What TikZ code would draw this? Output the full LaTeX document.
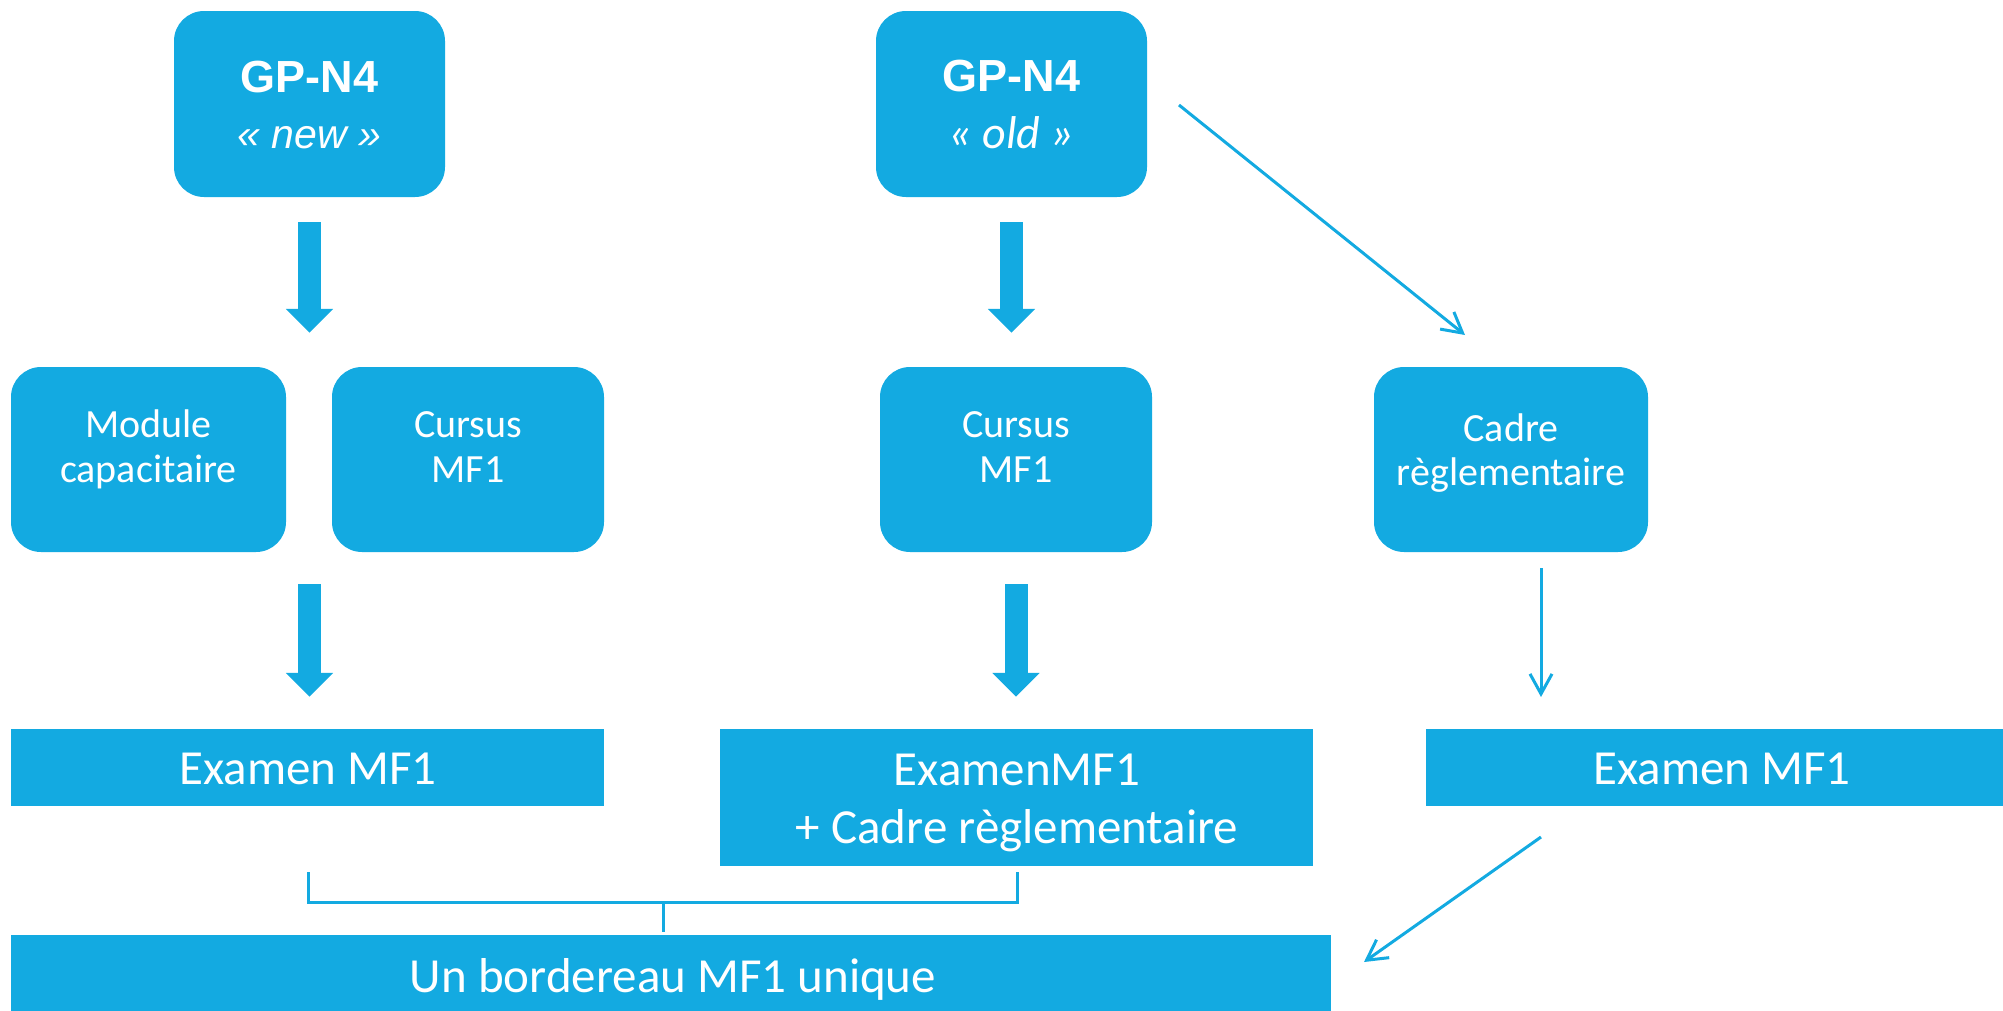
\documentclass[tikz,border=0pt]{standalone}
\usepackage{fontspec}
\setmainfont{Carlito}
\newfontfamily\arialfont{Liberation Sans}
\usetikzlibrary{arrows.meta,calc}
\definecolor{pblue}{HTML}{13AAE1}
\begin{document}
\begin{tikzpicture}[x=1pt,y=-1pt,
  rbox/.style={fill=pblue, rounded corners=30pt, inner sep=0pt, draw=none, minimum height=186pt},
  sbox/.style={fill=pblue, inner sep=0pt, draw=none},
  wtxt/.style={text=white, inner sep=0pt, anchor=base},
  midtxt/.style={wtxt, font=\fontsize{40}{48}\selectfont},
  bigtxt/.style={wtxt, font=\fontsize{49}{58}\selectfont},
  fat/.style={draw=pblue, line width=23pt, -{Triangle[length=24pt,width=46pt]}},
  thinarrow/.style={draw=pblue, line width=3pt, -{Straight Barb[length=20pt,width=22pt]}},
  brk/.style={draw=pblue, line width=3pt}]
\useasboundingbox (0,0) rectangle (2003,1010);
% top boxes
\node[rbox, minimum width=271pt] (new) at (309.5,104) {};
\node[rbox, minimum width=271pt] (old) at (1011.5,104) {};
\node[wtxt, font=\arialfont\bfseries\fontsize{45}{52}\selectfont] (newt1) at (309.5,92) {GP-N4};
\node[wtxt, font=\arialfont\itshape\fontsize{41}{48}\selectfont] (newt2) at (309.5,148) {« new »};
\node[wtxt, font=\arialfont\bfseries\fontsize{45}{52}\selectfont] (oldt1) at (1011.5,91) {GP-N4};
\node[wtxt, font=\itshape\fontsize{46}{52}\selectfont] (oldt2) at (1011.5,148) {« old »};
% second row
\node[rbox, minimum width=275pt, minimum height=185pt] (mod) at (148.5,459.5) {};
\node[rbox, minimum width=272pt, minimum height=185pt] (curL) at (468,459.5) {};
\node[rbox, minimum width=272pt, minimum height=185pt] (curM) at (1016,459.5) {};
\node[rbox, minimum width=274pt, minimum height=185pt] (cadre) at (1511,459.5) {};
\node[midtxt] (modt1) at (148.5,437) {Module};
\node[midtxt] (modt2) at (148.5,482) {capacitaire};
\node[midtxt] (curLt1) at (468,437) {Cursus};
\node[midtxt] (curLt2) at (468,482) {MF1};
\node[midtxt] (curMt1) at (1016,437) {Cursus};
\node[midtxt] (curMt2) at (1016,482) {MF1};
\node[midtxt] (cadret1) at (1511,441) {Cadre};
\node[midtxt] (cadret2) at (1511,485) {règlementaire};
% third row
\node[sbox, minimum width=593pt, minimum height=77pt] (exL) at (307.5,767.5) {};
\node[sbox, minimum width=593pt, minimum height=137pt] (exM) at (1016.5,797.5) {};
\node[sbox, minimum width=590pt, minimum height=77pt] (exR) at (1721,767.5) {};
\node[bigtxt] (exLt) at (308,784) {Examen MF1};
\node[bigtxt] (exMt1) at (1017,785) {ExamenMF1};
\node[bigtxt] (exMt2) at (1017,843) {+ Cadre règlementaire};
\node[bigtxt] (exRt) at (1722,784) {Examen MF1};
% bottom
\node[sbox, minimum width=1320pt, minimum height=80pt] (bord) at (671,975) {};
\node[bigtxt] (bordt) at (673,992) {Un bordereau MF1 unique};
% thick arrows
\draw[fat, shorten <=25pt, shorten >=34pt] (new.south) -- (new.south |- mod.north);
\draw[fat, shorten <=32pt, shorten >=32pt] (new.south |- mod.south) -- (new.south |- exL.north);
\draw[fat, shorten <=25pt, shorten >=34pt] (old.south) -- (old.south |- curM.north);
\draw[fat, shorten <=32pt, shorten >=32pt] (curM.south) -- (curM.south |- exM.north);
% thin arrows
\coordinate (d1a) at (1179,105);
\coordinate (d1b) at (1465,335);
\coordinate (v1a) at (1541,568);
\coordinate (v1b) at (1541,697);
\coordinate (d2a) at (1541,837);
\coordinate (d2b) at (1364,962);
\draw[thinarrow] (d1a) -- (d1b);
\draw[thinarrow] (v1a) -- (v1b);
\draw[thinarrow] (d2a) -- (d2b);
% bracket
\coordinate (bl) at (308,872);
\coordinate (br) at (1017,872);
\coordinate (bm) at (663,902);
\coordinate (bs) at (663,932);
\draw[brk] (bl) -- (bl |- bm) -- (br |- bm) -- (br);
\draw[brk] (bm) -- (bs);
\end{tikzpicture}
\end{document}
